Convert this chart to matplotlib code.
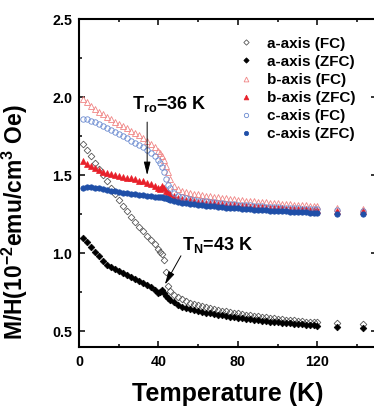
import matplotlib
matplotlib.use("Agg")
import matplotlib.pyplot as plt
from matplotlib.ticker import MultipleLocator

plt.rcParams['font.family'] = ['Liberation Sans', 'DejaVu Sans']
plt.rcParams['font.weight'] = 'bold'
plt.rcParams['mathtext.fontset'] = 'custom'
plt.rcParams['mathtext.rm'] = 'Liberation Sans'
plt.rcParams['mathtext.bf'] = 'Liberation Sans:bold'
plt.rcParams['mathtext.default'] = 'bf'

# temperature grid (K), shared by all six curves
temp = [2, 4, 6, 8, 10, 12, 14, 16, 18, 20,
        22, 24, 26, 28, 30, 32, 34, 36, 38, 40,
        41, 42, 43, 44, 45, 46, 48, 50, 52, 54,
        56, 58, 60, 62, 64, 66, 68, 70, 72, 74,
        76, 78, 80, 82, 84, 86, 88, 90, 92, 94,
        96, 98, 100, 102, 104, 106, 108, 110, 112, 114,
        116, 118, 120, 130, 143]

# M/H in 10^-2 emu/cm^3 Oe
a_fc = [1.70, 1.66, 1.62, 1.58, 1.54, 1.50, 1.46, 1.42, 1.38, 1.34,
        1.305, 1.27, 1.235, 1.20, 1.17, 1.14, 1.11, 1.085, 1.06, 1.03,
        1.01, 0.995, 0.96, 0.88, 0.79, 0.76, 0.735, 0.72, 0.705, 0.693,
        0.683, 0.675, 0.668, 0.661, 0.655, 0.649, 0.643, 0.638, 0.633, 0.628,
        0.623, 0.619, 0.615, 0.611, 0.607, 0.603, 0.600, 0.596, 0.593, 0.589,
        0.586, 0.583, 0.580, 0.577, 0.575, 0.572, 0.570, 0.567, 0.565, 0.563,
        0.561, 0.559, 0.557, 0.551, 0.545]
a_zfc = [1.10, 1.07, 1.04, 1.01, 0.98, 0.95, 0.925, 0.912, 0.90, 0.888,
         0.876, 0.864, 0.851, 0.838, 0.825, 0.811, 0.797, 0.782, 0.763, 0.745,
         0.750, 0.766, 0.748, 0.728, 0.712, 0.700, 0.685, 0.670, 0.658, 0.649,
         0.641, 0.635, 0.630, 0.625, 0.620, 0.615, 0.610, 0.606, 0.602, 0.598,
         0.594, 0.590, 0.587, 0.583, 0.580, 0.577, 0.574, 0.571, 0.568, 0.565,
         0.563, 0.560, 0.557, 0.555, 0.553, 0.551, 0.549, 0.547, 0.545, 0.543,
         0.541, 0.539, 0.537, 0.527, 0.519]
b_fc = [1.990, 1.970, 1.945, 1.925, 1.905, 1.890, 1.875, 1.858, 1.842, 1.830,
        1.815, 1.800, 1.785, 1.770, 1.755, 1.740, 1.720, 1.700, 1.680, 1.655,
        1.640, 1.620, 1.595, 1.560, 1.520, 1.475, 1.430, 1.410, 1.400, 1.393,
        1.387, 1.382, 1.377, 1.373, 1.369, 1.365, 1.361, 1.358, 1.355, 1.352,
        1.349, 1.346, 1.343, 1.341, 1.338, 1.336, 1.333, 1.331, 1.329, 1.326,
        1.324, 1.322, 1.320, 1.318, 1.316, 1.314, 1.312, 1.310, 1.308, 1.306,
        1.305, 1.303, 1.301, 1.290, 1.285]
b_zfc = [1.588, 1.572, 1.556, 1.543, 1.532, 1.523, 1.516, 1.509, 1.503, 1.497,
         1.491, 1.485, 1.479, 1.473, 1.466, 1.460, 1.452, 1.444, 1.434, 1.415,
         1.410, 1.428, 1.420, 1.400, 1.390, 1.380, 1.366, 1.356, 1.349, 1.344,
         1.339, 1.335, 1.331, 1.328, 1.325, 1.322, 1.319, 1.316, 1.313, 1.311,
         1.309, 1.307, 1.305, 1.303, 1.301, 1.299, 1.297, 1.296, 1.294, 1.293,
         1.291, 1.290, 1.289, 1.287, 1.286, 1.285, 1.284, 1.283, 1.282, 1.281,
         1.280, 1.279, 1.278, 1.272, 1.268]
c_fc = [1.862, 1.858, 1.850, 1.840, 1.830, 1.815, 1.800, 1.787, 1.775, 1.762,
        1.750, 1.737, 1.722, 1.708, 1.693, 1.678, 1.660, 1.642, 1.622, 1.597,
        1.580, 1.555, 1.520, 1.475, 1.440, 1.415, 1.385, 1.368, 1.358, 1.351,
        1.346, 1.342, 1.338, 1.335, 1.332, 1.329, 1.326, 1.323, 1.320, 1.318,
        1.316, 1.314, 1.312, 1.310, 1.308, 1.306, 1.304, 1.302, 1.300, 1.298,
        1.297, 1.295, 1.294, 1.292, 1.291, 1.290, 1.288, 1.287, 1.286, 1.285,
        1.284, 1.283, 1.282, 1.276, 1.272]
c_zfc = [1.415, 1.423, 1.424, 1.421, 1.416, 1.411, 1.406, 1.401, 1.397, 1.393,
         1.389, 1.385, 1.381, 1.377, 1.374, 1.371, 1.368, 1.365, 1.362, 1.360,
         1.359, 1.358, 1.357, 1.354, 1.348, 1.340, 1.332, 1.327, 1.323, 1.320,
         1.317, 1.314, 1.311, 1.308, 1.305, 1.302, 1.300, 1.297, 1.295, 1.293,
         1.291, 1.289, 1.287, 1.285, 1.283, 1.281, 1.279, 1.278, 1.276, 1.275,
         1.273, 1.272, 1.270, 1.269, 1.268, 1.266, 1.265, 1.264, 1.263, 1.262,
         1.261, 1.260, 1.259, 1.250, 1.250]

labels = ['a-axis (FC)', 'a-axis (ZFC)', 'b-axis (FC)',
          'b-axis (ZFC)', 'c-axis (FC)', 'c-axis (ZFC)']

fig = plt.figure(figsize=(3.74, 4.08), dpi=100)
ax = fig.add_axes([0.2112, 0.1495, 0.7971, 0.8039])

ax.plot(temp, a_fc, 'D', ms=3.4, mfc='none', mec='#555555', mew=0.6, ls='none', label=labels[0])
ax.plot(temp, a_zfc, 'D', ms=3.4, mfc='black', mec='black', mew=0.5, ls='none', label=labels[1])
ax.plot(temp, b_fc, '^', ms=4.3, mfc='none', mec='#f08585', mew=0.6, ls='none', label=labels[2])
ax.plot(temp, b_zfc, '^', ms=4.3, mfc='#e8202a', mec='#e8202a', mew=0.5, ls='none', label=labels[3])
ax.plot(temp, c_fc, 'o', ms=3.9, mfc='none', mec='#6a8ad0', mew=0.6, ls='none', label=labels[4])
ax.plot(temp, c_zfc, 'o', ms=3.9, mfc='#1f4fa8', mec='#1f4fa8', mew=0.5, ls='none', label=labels[5])

ax.set_xlim(0, 150)
ax.set_ylim(0.4, 2.5)
ax.xaxis.set_major_locator(MultipleLocator(40))
ax.xaxis.set_minor_locator(MultipleLocator(20))
ax.yaxis.set_major_locator(MultipleLocator(0.5))
ax.yaxis.set_minor_locator(MultipleLocator(0.25))
ax.set_xticks([0, 40, 80, 120])
ax.tick_params(which='both', direction='in', top=True, right=True, width=1.1, labelsize=10.3)
ax.tick_params(which='major', length=4.5)
ax.tick_params(which='minor', length=2.5)
ax.tick_params(axis='x', pad=6)
ax.tick_params(axis='y', pad=5)
for s in ax.spines.values():
    s.set_linewidth(1.5)

ax.set_xlabel('Temperature (K)', fontsize=18, fontweight='bold', labelpad=9)
ax.set_ylabel(r'M/H(10$^{-2}$emu/cm$^{3}$ Oe)', fontsize=16.5, fontweight='bold')
ax.yaxis.set_label_coords(-0.165, 0.38)

ax.legend(loc='upper left', bbox_to_anchor=(0.515, 0.965), frameon=False, fontsize=11,
          handlelength=1.0, handletextpad=0.85, labelspacing=0.27, markerscale=0.8,
          borderaxespad=0)

# annotations
ax.text(26.6, 1.927, r'T$_{\mathrm{ro}}$=36 K', fontsize=13, fontweight='bold', va='baseline')
ax.annotate('', xy=(34.3, 1.50), xytext=(34.3, 1.84),
            arrowprops=dict(arrowstyle='-|>,head_width=0.2,head_length=0.8', color='black',
                            lw=0.7, mutation_scale=10, shrinkA=0, shrinkB=0))
ax.text(51.8, 1.022, r'T$_{\mathrm{N}}$=43 K', fontsize=13, fontweight='bold', va='baseline')
ax.annotate('', xy=(43.2, 0.80), xytext=(51.3, 0.984),
            arrowprops=dict(arrowstyle='-|>,head_width=0.2,head_length=0.8', color='black',
                            lw=0.7, mutation_scale=10, shrinkA=0, shrinkB=0))

fig.savefig('out.png', dpi=100)
